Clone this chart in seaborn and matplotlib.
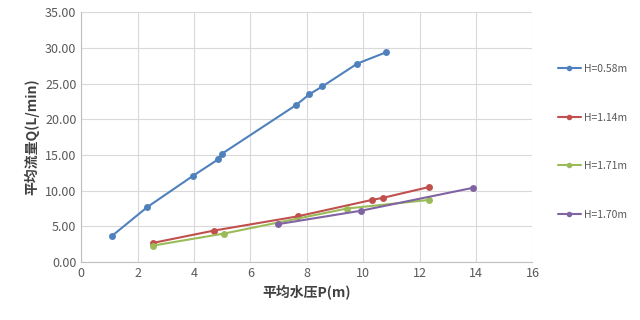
import seaborn as sns
import pandas as pd
import matplotlib.pyplot as plt
from matplotlib.ticker import FormatStrFormatter

# values
series_names = ['H=0.58m', 'H=1.14m', 'H=1.71m', 'H=1.70m']
p_058 = [1.10, 2.34, 3.97, 4.86, 5.00, 7.62, 8.09, 8.55, 9.79, 10.82]
q_058 = [3.7, 7.7, 12.1, 14.4, 15.2, 22.0, 23.5, 24.6, 27.8, 29.4]
p_114 = [2.56, 4.69, 7.67, 10.30, 10.70, 12.32]
q_114 = [2.7, 4.4, 6.4, 8.7, 9.0, 10.5]
p_171 = [2.53, 5.07, 9.42, 12.32]
q_171 = [2.3, 4.0, 7.5, 8.7]
p_170 = [6.96, 9.93, 13.89]
q_170 = [5.3, 7.2, 10.4]
colors = ['#4F81BD', '#C0504D', '#9BBB59', '#8064A2']

frames = []
for name, p, q in zip(series_names, [p_058, p_114, p_171, p_170], [q_058, q_114, q_171, q_170]):
    frames.append(pd.DataFrame({'P': p, 'Q': q, 'H': name}))
df = pd.concat(frames, ignore_index=True)

sns.set_style('whitegrid')
plt.rcParams['font.family'] = ['Noto Sans CJK SC', 'DejaVu Sans']

fig, ax = plt.subplots(figsize=(6.4, 3.2), dpi=100)
fig.subplots_adjust(left=0.127, right=0.832, top=0.962, bottom=0.181)

sns.lineplot(data=df, x='P', y='Q', hue='H', palette=colors, sort=False,
             marker='o', markersize=5, markeredgewidth=0, linewidth=1.5, ax=ax)

ax.set_xlim(0, 16)
ax.set_ylim(0, 35)
ax.set_xticks(range(0, 17, 2))
ax.set_yticks(range(0, 36, 5))
ax.yaxis.set_major_formatter(FormatStrFormatter('%.2f'))
ax.tick_params(labelsize=9, colors='#595959', length=0)
ax.grid(color='#d9d9d9', linewidth=0.8)
for s in ['top', 'right']:
    ax.spines[s].set_visible(False)
for s in ['left', 'bottom']:
    ax.spines[s].set_color('#bfbfbf')
    ax.spines[s].set_linewidth(0.8)

ax.set_xlabel('平均水压P(m)', fontsize=10, color='#404040', fontweight='bold')
ax.set_ylabel('平均流量Q(L/min)', fontsize=10, color='#404040', fontweight='bold')

leg = ax.legend(title=None, loc='upper left', bbox_to_anchor=(1.035, 0.83), frameon=False,
                fontsize=7.5, labelspacing=3.7, handlelength=2.2, handletextpad=0.3,
                labelcolor='#595959', markerscale=0.8)

fig.savefig('out.png', dpi=100)
